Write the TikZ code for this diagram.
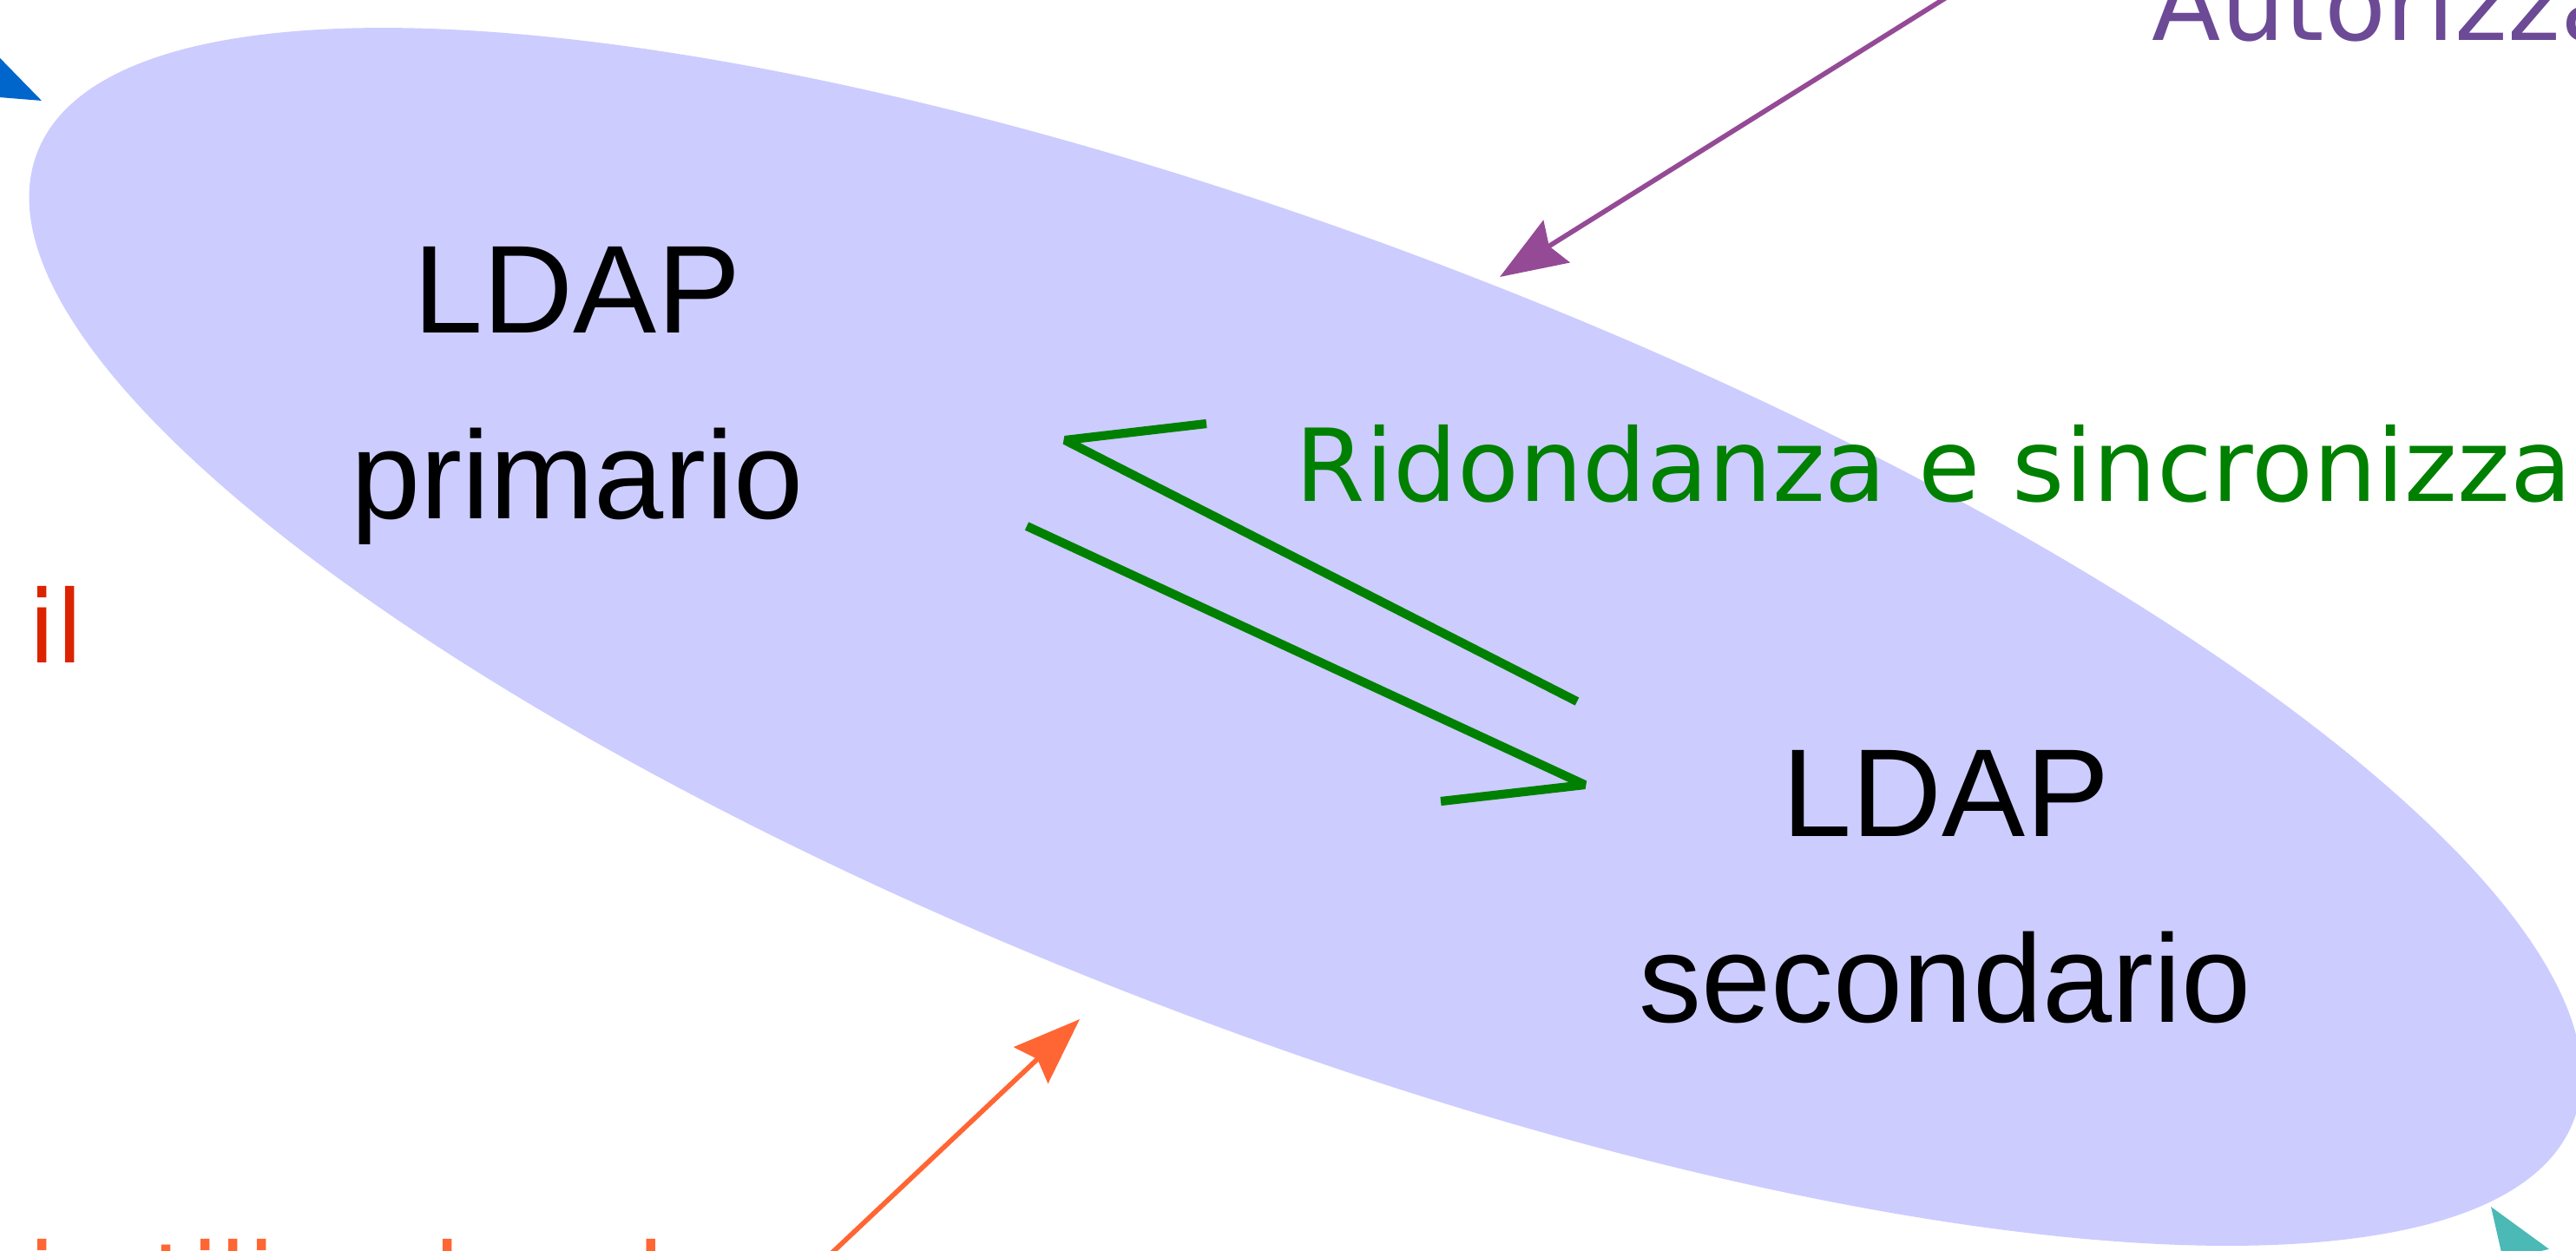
\documentclass[tikz,border=0pt]{standalone}
\usepackage{fontspec}
\usetikzlibrary{arrows.meta}
\newfontfamily\ldapfont{Liberation Sans}
\newfontfamily\notefont{DejaVu Sans}
\definecolor{ldapfill}{HTML}{CCCCFF}
\definecolor{syncgreen}{HTML}{008000}
\definecolor{authline}{HTML}{954A96}
\definecolor{authtext}{HTML}{6C4A96}
\definecolor{mailred}{HTML}{DC2300}
\definecolor{tooltext}{HTML}{FF6633}
\definecolor{sideblue}{HTML}{0066CC}
\definecolor{sideteal}{HTML}{4BB9B6}

\begin{document}
\begin{tikzpicture}[>={Stealth[length=7.7mm,width=5.7mm,inset=1mm]},
    ldap node/.style={font=\ldapfont\fontsize{41}{49}\selectfont,inner sep=0pt,anchor=base},
    note node/.style={font=\notefont\fontsize{33}{40}\selectfont,inner sep=0pt,anchor=base west},
    sync line/.style={-,line width=2.9pt,line join=bevel,color=syncgreen},
    link arrow/.style={->,line width=1.6pt}]
  \useasboundingbox (0,0) rectangle (29.68,-14.40);
  % the two servers
  \fill[ldapfill,rotate around={-20.87:(15.04,-7.335)}] (15.04,-7.335) ellipse [x radius=15.64,y radius=4.56];
  \node[ldap node] (prim) at (6.65,-3.83) {LDAP};
  \node[ldap node] (primlbl) at (6.65,-5.97) {primario};
  \node[ldap node] (sec) at (22.42,-9.63) {LDAP};
  \node[ldap node] (seclbl) at (22.41,-11.77) {secondario};

  % replication
  \coordinate (upA) at (18.17,-8.08);
  \coordinate (upB) at (12.27,-5.07);
  \coordinate (upC) at (13.90,-4.88);
  \coordinate (downA) at (11.83,-6.06);
  \coordinate (downB) at (18.26,-9.04);
  \coordinate (downC) at (16.60,-9.23);
  \draw[sync line] (upA) -- (upB) -- (upC);
  \draw[sync line] (downA) -- (downB) -- (downC);
  \node[note node,text=syncgreen] (synclbl) at (14.92,-5.77) {Ridondanza e sincronizza};

  % services around
  \node[note node,text=authtext] (authlbl) at (24.79,-0.46) {Autorizza};
  \node[note node,text=mailred] (maillbl) at (0.32,-7.63) {il};
  \node[note node,text=tooltext] (toollbl) at (-3.225,-15.15) {Servizi utili nel web};

  \coordinate (blueStart) at (-3.14,0.54);
  \coordinate (blueTip) at (0.48,-1.16);
  \coordinate (purpleStart) at (22.89,0.32);
  \coordinate (purpleTip) at (17.28,-3.19);
  \coordinate (orangeStart) at (8.95,-15.03);
  \coordinate (orangeTip) at (12.44,-11.74);
  \coordinate (tealStart) at (30.90,-17.24);
  \coordinate (tealTip) at (28.70,-13.90);
  \path[link arrow,sideblue] (blueStart) edge (blueTip);
  \path[link arrow,authline] (purpleStart) edge (purpleTip);
  \path[link arrow,tooltext] (orangeStart) edge (orangeTip);
  \path[link arrow,sideteal] (tealStart) edge (tealTip);
\end{tikzpicture}
\end{document}
